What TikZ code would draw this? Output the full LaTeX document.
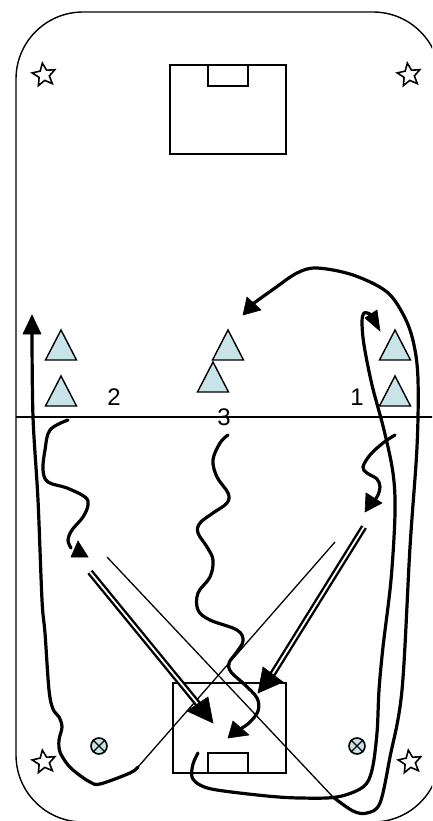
\documentclass[tikz,border=0pt]{standalone}
\usepackage{fontspec}
\setmainfont{Liberation Sans}
\usetikzlibrary{shapes.geometric}
\definecolor{coneblue}{RGB}{200,228,232}
\begin{document}
\begin{tikzpicture}[x=1pt,y=-1pt,
  border/.style={line width=1.4pt},
  goalline/.style={line width=1.6pt},
  run/.style={line width=3.2pt, line cap=round, line join=round},
  thinpass/.style={line width=1.3pt},
  dpass/.style={double=white, double distance=1.8pt, line width=2.4pt},
  head/.style={fill=black, draw=black, line width=0.6pt, line join=miter},
  cone/.style={fill=coneblue, draw=black, line width=1.4pt, line join=miter},
  flag/.style={star, star points=5, star point ratio=2.2, minimum size=24pt, inner sep=0pt, draw, line width=1.6pt, rotate=8},
  ball/.style={circle, draw, fill=coneblue, minimum size=16pt, inner sep=0pt, line width=1.6pt},
  num/.style={font=\fontsize{24}{24}\selectfont, inner sep=0pt}
]
\useasboundingbox (0,0) rectangle (432,821);
\clip (0,0) rectangle (432,821);

% field border
\draw[border, rounded corners=67pt] (16,12) rectangle (440,822);
% halfway line
\draw[line width=1.6pt] (16,417) -- (440,417);

% goals
\draw[goalline] (170,65) rectangle (286,154);
\draw[goalline] (208,65) rectangle (248,86);
\draw[goalline] (173,683) rectangle (286,773);
\draw[goalline] (208,753) rectangle (248,773);

% corner flags
\node[flag] (fTL) at (44,75) {};
\node[flag] (fTR) at (409,75) {};
\node[flag] (fBL) at (44,762) {};
\node[flag] (fBR) at (410,762) {};

% cones
\newcommand\conetri[2]{\draw[cone] ({#1-15.5},{#2+30}) -- (#1,#2) -- ({#1+15.5},{#2+30}) -- cycle;}
\conetri{61}{330}
\conetri{61}{376}
\conetri{228}{330}
\conetri{213}{362}
\conetri{395}{330}
\conetri{395}{376}

% balls
\node[ball] (b1) at (99,746) {};
\draw[line width=1.3pt] (b1.north west) -- (b1.south east) (b1.north east) -- (b1.south west);
\node[ball] (b2) at (357,746) {};
\draw[line width=1.3pt] (b2.north west) -- (b2.south east) (b2.north east) -- (b2.south west);

% numbers
\node[num] (n2) at (114,397) {2};
\node[num] (n1) at (357,397) {1};
\node[num] (n3) at (224,417) {3};

% thin passes
\coordinate (p2s) at (107,557);
\coordinate (p2e) at (333,797);
\draw[thinpass] (p2s) -- (p2e);
\coordinate (p1s) at (335,542);
\coordinate (p1e) at (138,767);
\draw[thinpass] (p1s) -- (p1e);

% run A (outer right loop over the top)
\draw[run] plot[smooth, tension=0.55] coordinates {(333,797) (353,811) (367,813) (380,803) (390,757) (402,690) (410,547) (417,447) (418,380) (414,345) (405,318) (387,292) (353,275) (317,268) (297,273) (275,288) (254,303)};
\fill[head] (243,315) -- (247,297) -- (261,310) -- cycle;

% run B (left side up)
\draw[run] plot[smooth, tension=0.55] coordinates {(p1e) (130,773) (100,784) (90,782) (78,774) (68,765) (60,752) (59,740) (62,727) (59,717) (53,709) (49,690) (45,633) (42,600) (38,500) (33,417) (32,333)};
\fill[head] (32,315) -- (23,334) -- (41,334) -- cycle;

% run C (from goal, inner right loop)
\draw[run] plot[smooth, tension=0.55] coordinates {(198,753) (193,764) (192,777) (200,785) (217,790) (267,796) (300,798) (337,797) (363,787) (372,770) (377,733) (379,690) (383,647) (391,580) (395,513) (393,473) (384,430) (372,385) (364,345) (362,322) (364,313) (370,314)};
\fill[head] (380,331) -- (365,318) -- (377,310) -- cycle;

% dribble 2
\draw[run] plot[smooth, tension=0.6] coordinates {(68,420) (50,430) (45,450) (43,470) (48,482) (67,488) (85,497) (88,505) (83,517) (72,530) (68,540) (71,548)};
\fill[head] (71,557) -- (88,557) -- (78,541) -- cycle;

% dribble 1
\draw[run] plot[smooth, tension=0.6] coordinates {(395,435) (383,443) (370,455) (363,467) (367,473) (377,479) (380,487) (378,495) (375,500)};
\fill[head] (365,512) -- (366,493) -- (382,503) -- cycle;

% dribble 3
\draw[run] plot[smooth, tension=0.6] coordinates {(228,435) (220,443) (213,460) (217,477) (228,493) (227,503) (213,513) (200,523) (198,533) (207,547) (213,560) (210,577) (198,593) (198,610) (210,620) (237,630) (243,641) (236,653) (229,663) (231,672) (244,684) (257,698) (258,711) (250,722) (242,728)};
\fill[head] (228,738) -- (233,721) -- (249,735) -- cycle;

% double passes
\coordinate (dl1) at (90,572);
\coordinate (dl2) at (198,704);
\draw[dpass] (dl1) -- (dl2);
\fill[head] (213,723) -- (187,711) -- (208,697) -- cycle;
\coordinate (dr1) at (364,527);
\coordinate (dr2) at (272,675);
\draw[dpass] (dr1) -- (dr2);
\fill[head] (258,693) -- (263,667) -- (283,682) -- cycle;
\end{tikzpicture}
\end{document}
